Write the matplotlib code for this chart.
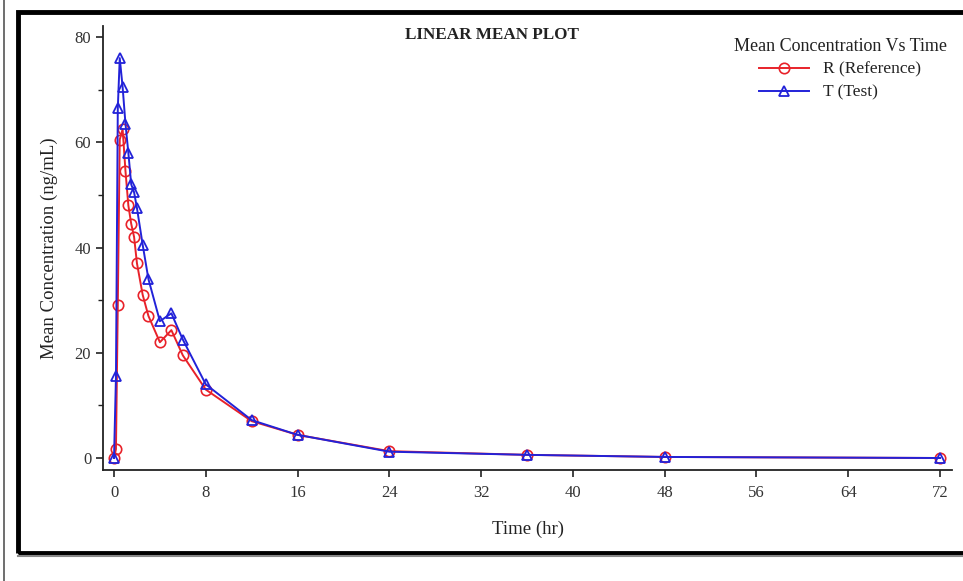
import matplotlib
matplotlib.use("Agg")
import matplotlib.pyplot as plt
from matplotlib.lines import Line2D
from matplotlib.patches import Rectangle
from matplotlib.ticker import MultipleLocator

# sampling times (hr) and mean concentrations (ng/mL)
times = [0, 0.17, 0.33, 0.5, 0.75, 1, 1.25, 1.5, 1.75, 2, 2.5, 3, 4, 5, 6,
         8, 12, 16, 24, 36, 48, 72]
conc_ref = [0, 1.7, 29, 60.5, 62.5, 54.5, 48, 44.5, 42, 37, 31, 27, 22, 24.3,
            19.5, 13, 7, 4.4, 1.3, 0.6, 0.2, 0]
conc_test = [0, 15.5, 66.5, 76, 70.5, 63.5, 58, 52, 50.5, 47.5, 40.5, 34, 26,
             27.5, 22.5, 14, 7.2, 4.4, 1.2, 0.6, 0.2, 0]
xticks = [0, 8, 16, 24, 32, 40, 48, 56, 64, 72]
yticks = [0, 20, 40, 60, 80]

plt.rcParams['font.family'] = ['Liberation Serif', 'DejaVu Serif']

fig = plt.figure(figsize=(9.63, 5.81), dpi=100)
W, H = 963.0, 581.0

# page frame
fig.add_artist(Line2D([4 / W, 4 / W], [0, 1], color='#555555', lw=1.2))
fig.add_artist(Rectangle((18 / W, 1 - 553 / H), 950 / W, (553 - 12) / H,
                         fill=False, edgecolor='black', lw=3.5))
fig.add_artist(Line2D([18 / W, 1], [1 - 556 / H, 1 - 556 / H],
                      color='#888888', lw=1.5))

ax = fig.add_axes([103 / W, 1 - 470 / H, (952 - 103) / W, (470 - 26) / H])
ax.plot(times, conc_ref, '-o', color='#e8222a', lw=1.4, ms=7.5,
        mfc='none', mec='#e8222a', mew=1.2, label='R (Reference)')
ax.plot(times, conc_test, '-^', color='#2222d8', lw=1.4, ms=7.5,
        mfc='none', mec='#2222d8', mew=1.3, label='T (Test)')

ax.set_xlim(-0.96, 73.05)
ax.set_ylim(-2.28, 82.1)
ax.set_xticks(xticks)
ax.set_yticks(yticks)
ax.yaxis.set_minor_locator(MultipleLocator(10))
for s in ['top', 'right']:
    ax.spines[s].set_visible(False)
for s in ['left', 'bottom']:
    ax.spines[s].set_linewidth(1.3)
    ax.spines[s].set_color('#222222')
ax.tick_params(which='major', length=5, width=1.2, labelsize=12,
               labelcolor='#333333', color='#222222')
ax.tick_params(which='minor', length=3.5, width=1.0, color='#222222')
ax.tick_params(axis='x', pad=6)

ax.set_xlabel('Time (hr)', fontsize=13.5, labelpad=14, color='#222222')
ax.set_ylabel('Mean Concentration (ng/mL)', fontsize=13.5, labelpad=12,
              color='#222222')

fig.text(492 / W, 1 - 35 / H, 'LINEAR MEAN PLOT', ha='center', va='center',
         fontsize=12.3, fontweight='bold', color='#222222')

leg = ax.legend(loc='upper center', bbox_to_anchor=(840 / W, 1 - 29 / H),
                bbox_transform=fig.transFigure, frameon=False,
                title='Mean Concentration Vs Time', fontsize=12.5,
                title_fontsize=13, handlelength=2.9, handletextpad=0.8,
                labelspacing=0.4, borderpad=0)
leg._legend_box.align = 'center'
for t in leg.get_texts():
    t.set_color('#222222')
leg.get_title().set_color('#222222')

fig.savefig('out.png', dpi=100)
